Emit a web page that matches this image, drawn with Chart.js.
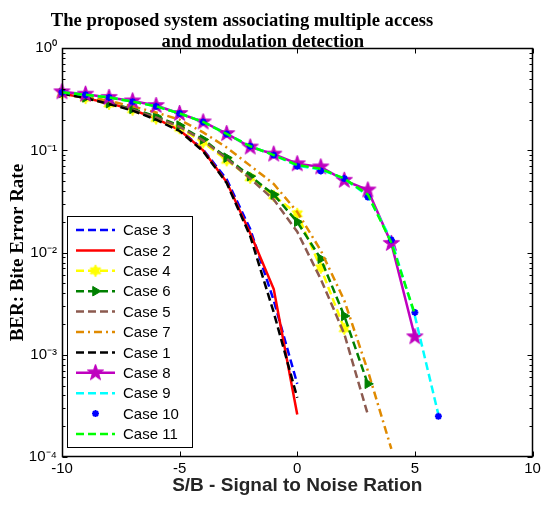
<!DOCTYPE html>
<html><head><meta charset="utf-8">
<script src="https://cdn.jsdelivr.net/npm/chart.js@4/dist/chart.umd.min.js"></script>
<style>html,body{margin:0;padding:0;background:#fff;} #wrap{width:543px;height:505px;}</style>
</head><body><div id="wrap"><canvas id="c" width="543" height="505"></canvas></div>
<script>
// ---- data (x = SNR in dB, y = BER) ----
const snr = [-10,-9,-8,-7,-6,-5,-4,-3,-2,-1,0,1,2,3,4,5,6];
const case3  = [0.365,0.33,0.29,0.25,0.205,0.16,0.102,0.052,0.017,0.0034,0.00052];
const case2  = [0.36,0.325,0.29,0.25,0.205,0.158,0.1,0.049,0.0155,0.0044,0.00026];
const case4  = [0.36,0.325,0.285,0.25,0.205,0.165,0.12,0.08,0.054,0.036,0.024,0.0071,0.0018];
const case6  = [0.365,0.33,0.29,0.255,0.215,0.175,0.128,0.085,0.056,0.037,0.02,0.0087,0.0024,0.00052];
const case5  = [0.36,0.325,0.29,0.25,0.21,0.17,0.125,0.083,0.053,0.033,0.016,0.0055,0.0016,0.00026];
const case7  = [0.37,0.34,0.305,0.27,0.235,0.2,0.15,0.107,0.071,0.047,0.025,0.0105,0.0034,0.0007,0.00012];
const case1  = [0.36,0.325,0.285,0.245,0.2,0.155,0.098,0.048,0.0145,0.0026,0.00038];
const case8  = [0.375,0.355,0.33,0.305,0.275,0.23,0.19,0.146,0.108,0.092,0.074,0.069,0.051,0.041,0.0123,0.0015];
const case9  = [0.37,0.35,0.33,0.3,0.27,0.23,0.19,0.145,0.11,0.09,0.071,0.065,0.053,0.036,0.0133,0.0024,0.00026];
const case10 = [0.37,0.35,0.33,0.3,0.27,0.23,0.19,0.145,0.11,0.09,0.07,0.063,0.053,0.035,0.0133,0.0026,0.00025];
const case11 = [0.37,0.35,0.33,0.3,0.27,0.23,0.19,0.145,0.11,0.09,0.072,0.066,0.053,0.037,0.0125,0.0025];
const seriesNames = ['Case 3','Case 2','Case 4','Case 6','Case 5','Case 7','Case 1','Case 8','Case 9','Case 10','Case 11'];
const xTickValues = [-10,-5,0,5,10];
const xTickLabels = ['-10','-5','0','5','10'];
const yTickValues = [1,0.1,0.01,0.001,0.0001];
const yTickLabels = ['10\u2070','10\u207B\u00B9','10\u207B\u00B2','10\u207B\u00B3','10\u207B\u2074'];
const NB = '\u00A0';
const titleLines = ['The proposed system associating multiple access' + NB.repeat(11), 'and modulation detection' + NB.repeat(2)];
const xTitle = 'S/B - Signal to Noise Ration';
const yTitle = 'BER: Bite Error Rate';

// ---- marker shapes ----
function starCanvas(points, rOuter, rInner, color, size){
  const c = document.createElement('canvas'); c.width = c.height = size;
  const g = c.getContext('2d'); g.fillStyle = color; g.strokeStyle = color; g.lineWidth = 1;
  g.beginPath();
  for (let i = 0; i < points*2; i++){
    const r = i % 2 ? rInner : rOuter;
    const a = -Math.PI/2 + i*Math.PI/points;
    const px = size/2 + r*Math.cos(a), py = size/2 + r*Math.sin(a);
    if (i) g.lineTo(px,py); else g.moveTo(px,py);
  }
  g.closePath(); g.fill(); g.stroke();
  return c;
}
const pentagram = starCanvas(5, 8.5, 3.4, '#bf00bf', 19);
const hexagram = starCanvas(6, 6, 3.3, '#ffff00', 14);

const pts = vals => vals.map((v,i) => ({x: snr[i], y: v}));
const DASH = [8,4], DASHDOT = [8,4,2,4];
function ds(label, vals, color, dash, extra){
  return Object.assign({label, data: pts(vals), borderColor: color, backgroundColor: color,
    borderWidth: 2.5, borderDash: dash, pointRadius: 0, tension: 0, clip: false}, extra || {});
}
const datasets = [
  ds(seriesNames[0], case3, '#0000ff', DASH),
  ds(seriesNames[1], case2, '#ff0000', []),
  ds(seriesNames[2], case4, '#ffff00', DASH, {pointStyle: hexagram, pointRadius: 6}),
  ds(seriesNames[3], case6, '#008000', DASH, {pointStyle: 'triangle', rotation: 90, pointRadius: 5.5, pointBorderWidth: 1}),
  ds(seriesNames[4], case5, '#8c5a4f', DASH),
  ds(seriesNames[5], case7, '#e08a00', DASHDOT),
  ds(seriesNames[6], case1, '#000000', DASH),
  ds(seriesNames[7], case8, '#bf00bf', [], {pointStyle: pentagram, pointRadius: 8}),
  ds(seriesNames[8], case9, '#00ffff', DASH),
  ds(seriesNames[9], case10, '#0000ff', [], {showLine: false, pointStyle: 'star', pointRadius: 3.5, pointBorderWidth: 2}),
  ds(seriesNames[10], case11, '#00ff00', DASH)
];
datasets.forEach((d,i) => d.order = datasets.length - i); // later series drawn on top

// ---- frame, inward ticks, legend ----
const axesFrame = {
  id: 'axesFrame',
  afterDraw(chart){
    const {ctx, chartArea: a, scales: {x, y}} = chart;
    const L = Math.round(a.left)+0.5, R = Math.round(a.right)-0.5, T = Math.round(a.top)+0.5, B = Math.round(a.bottom)-0.5;
    ctx.save();
    ctx.strokeStyle = '#000'; ctx.lineWidth = 1.5; ctx.setLineDash([]);
    ctx.strokeRect(L, T, R-L, B-T);
    ctx.lineWidth = 1;
    ctx.beginPath();
    xTickValues.forEach(v => { const px = Math.round(x.getPixelForValue(v))+0.5;
      ctx.moveTo(px, B); ctx.lineTo(px, B-5); ctx.moveTo(px, T); ctx.lineTo(px, T+5); });
    for (let e = -4; e <= -1; e++){
      for (let k = 1; k <= 9; k++){
        const v = k*Math.pow(10,e); const py = Math.round(y.getPixelForValue(v))+0.5;
        const len = k === 1 ? 5 : 3;
        ctx.moveTo(L, py); ctx.lineTo(L+len, py); ctx.moveTo(R, py); ctx.lineTo(R-len, py);
      }
    }
    ctx.stroke();
    // legend
    const lx = 67, ly = 216, lw = 125, lh = 231, row = 20.4;
    ctx.fillStyle = '#fff'; ctx.fillRect(lx, ly, lw, lh);
    ctx.strokeStyle = '#000'; ctx.lineWidth = 1; ctx.strokeRect(lx+0.5, ly+0.5, lw, lh);
    ctx.font = '15px "Liberation Sans", Arial, sans-serif'; ctx.textBaseline = 'middle'; ctx.textAlign = 'left';
    chart.data.datasets.forEach((d, i) => {
      const cy = ly + 14 + i*row;
      if (d.showLine !== false){
        ctx.strokeStyle = d.borderColor; ctx.lineWidth = d.borderWidth; ctx.setLineDash(d.borderDash);
        ctx.beginPath(); ctx.moveTo(76, cy); ctx.lineTo(115, cy); ctx.stroke();
      }
      ctx.setLineDash([]);
      if (d.pointRadius > 0){
        ctx.fillStyle = d.backgroundColor; ctx.strokeStyle = d.borderColor;
        ctx.lineWidth = d.pointBorderWidth || 1;
        Chart.helpers.drawPoint(ctx, {pointStyle: d.pointStyle, radius: d.pointRadius, rotation: d.rotation || 0, borderWidth: d.pointBorderWidth || 1}, 95.5, cy);
      }
      ctx.fillStyle = '#000';
      ctx.fillText(d.label, 123, cy+1);
    });
    ctx.restore();
  }
};

new Chart(document.getElementById('c'), {
  type: 'line',
  data: {datasets},
  plugins: [axesFrame],
  options: {
    responsive: false, animation: false, devicePixelRatio: 1,
    layout: {padding: {left: 0, right: 8, top: 0, bottom: 0}},
    plugins: {
      legend: {display: false}, tooltip: {enabled: false},
      title: {display: true, text: titleLines, color: '#000',
        font: {family: '"Liberation Serif", "Times New Roman", serif', size: 18.6, weight: 'bold', lineHeight: 1.135},
        padding: {top: 10.5, bottom: -4.5}}
    },
    scales: {
      x: {type: 'linear', min: -10, max: 10,
        afterBuildTicks: s => { s.ticks = xTickValues.map(v => ({value: v})); },
        afterFit: s => { s.height = 48; s.paddingRight = 0; s.paddingLeft = 0; },
        ticks: {callback: (v) => { const i = xTickValues.indexOf(v); return i >= 0 ? xTickLabels[i] : ''; },
          color: '#000', font: {family: '"Liberation Sans", Arial, sans-serif', size: 15}, padding: 3, maxRotation: 0, autoSkip: false},
        grid: {display: false, drawTicks: false}, border: {display: false},
        title: {display: true, text: xTitle, color: '#262626',
          font: {family: '"Liberation Sans", Arial, sans-serif', size: 19, weight: 'bold'}, padding: {top: 0, bottom: 8}}
      },
      y: {type: 'logarithmic', min: 0.0001, max: 1,
        afterBuildTicks: s => { s.ticks = yTickValues.map(v => ({value: v})); },
        afterFit: s => { s.width = 62; },
        ticks: {callback: (v) => { const i = yTickValues.findIndex(t => Math.abs(Math.log10(t) - Math.log10(v)) < 1e-6); return i >= 0 ? yTickLabels[i] : ''; },
          color: '#000', font: {family: '"Liberation Sans", Arial, sans-serif', size: 15}, padding: 5, autoSkip: false},
        grid: {display: false, drawTicks: false}, border: {display: false},
        title: {display: true, text: yTitle, color: '#000',
          font: {family: '"Liberation Serif", "Times New Roman", serif', size: 19, weight: 'bold'}, padding: {top: 6.5, bottom: 0}}
      }
    }
  }
});
</script></body></html>
